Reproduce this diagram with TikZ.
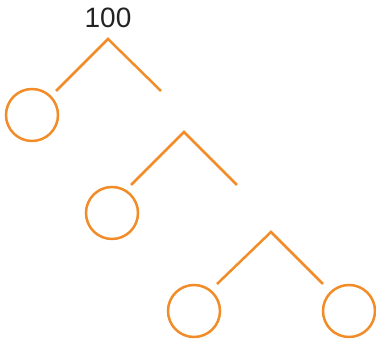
\documentclass[tikz,border=0pt]{standalone}
\usepackage{fontspec}
\setmainfont{Liberation Sans}
\usepackage{tikz}
\definecolor{treeorange}{RGB}{242,140,40}
\definecolor{labelgray}{RGB}{35,35,35}
\tikzset{leaf/.style={circle,draw=treeorange,line width=2.5pt,minimum size=52pt,inner sep=0pt},
         branch/.style={draw=treeorange,line width=2.5pt,line join=miter}}

\begin{document}
\begin{tikzpicture}[x=1pt,y=1pt]
        \useasboundingbox (0,0) rectangle (376,339);
        \node (root) at (108,321) [text=labelgray,inner sep=0pt] {\fontsize{28}{30}\selectfont 100};
        % first split
        \coordinate (a1) at (108,300);
        \coordinate (l1) at (56,248);
        \coordinate (r1) at (161,248);
        \node (c1) at (32,224) [leaf] {};
        % second split
        \coordinate (a2) at (184,207);
        \coordinate (l2) at (131,154);
        \coordinate (r2) at (237,154);
        \node (c2) at (112,126) [leaf] {};
        % third split
        \coordinate (a3) at (271,107);
        \coordinate (l3) at (217,55);
        \coordinate (r3) at (323,55);
        \node (c3) at (194,28) [leaf] {};
        \node (c4) at (349,28) [leaf] {};
        \draw [branch] (l1)--(a1)--(r1);
        \draw [branch] (l2)--(a2)--(r2);
        \draw [branch] (l3)--(a3)--(r3);
      \end{tikzpicture}
\end{document}
